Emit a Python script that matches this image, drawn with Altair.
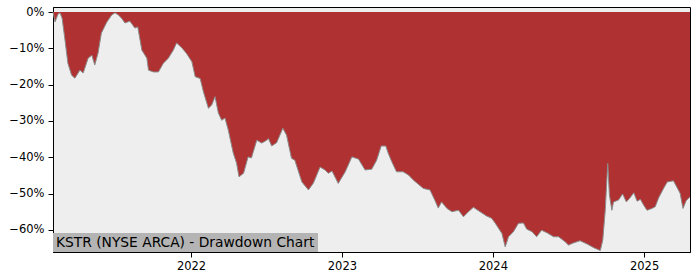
import altair as alt
import pandas as pd

dates = ["2021-02-01","2021-02-06","2021-02-13","2021-02-18","2021-02-23","2021-03-02","2021-03-09","2021-03-18","2021-03-26","2021-04-07",
"2021-04-15","2021-04-27","2021-05-06","2021-05-13","2021-05-21","2021-05-29","2021-06-11","2021-06-23","2021-07-01","2021-07-09",
"2021-07-17","2021-07-25","2021-08-06","2021-08-18","2021-08-25","2021-09-04","2021-09-16","2021-09-20","2021-10-02","2021-10-14",
"2021-10-26","2021-11-07","2021-11-19","2021-11-27","2021-12-10","2021-12-21","2022-01-03","2022-01-11","2022-01-23","2022-01-31",
"2022-02-12","2022-02-20","2022-02-28","2022-03-08","2022-03-16","2022-03-24","2022-04-01","2022-04-13","2022-04-21","2022-04-27",
"2022-05-08","2022-05-19","2022-05-27","2022-06-09","2022-06-21","2022-07-03","2022-07-07","2022-07-15","2022-07-27","2022-08-11",
"2022-08-20","2022-09-01","2022-09-09","2022-09-26","2022-10-12","2022-10-24","2022-11-09","2022-11-21","2022-11-29","2022-12-08",
"2022-12-23","2023-01-09","2023-01-25","2023-02-10","2023-02-26","2023-03-14","2023-03-26","2023-04-06","2023-04-17","2023-04-23",
"2023-05-01","2023-05-13","2023-05-29","2023-06-11","2023-06-23","2023-07-17","2023-08-02","2023-08-14","2023-08-22","2023-08-30",
"2023-09-12","2023-09-24","2023-10-10","2023-10-22","2023-11-03","2023-11-15","2023-12-01","2023-12-17","2023-12-29","2024-01-07",
"2024-01-23","2024-01-31","2024-02-08","2024-02-20","2024-03-03","2024-03-15","2024-03-23","2024-04-05","2024-04-16","2024-04-28",
"2024-05-11","2024-05-27","2024-06-08","2024-06-24","2024-07-02","2024-07-14","2024-07-30","2024-08-16","2024-09-01","2024-09-17",
"2024-09-23","2024-09-29","2024-10-05","2024-10-09","2024-10-15","2024-10-19","2024-10-31","2024-11-10","2024-11-19","2024-11-27",
"2024-12-07","2024-12-15","2024-12-23","2024-12-31","2025-01-08","2025-01-20","2025-01-28","2025-02-05","2025-02-17","2025-02-26",
"2025-03-13","2025-03-21","2025-03-29","2025-04-05","2025-04-13","2025-04-22"]

drawdown_pct = [0.0, -2.7, -0.6, -0.2, -1.7, -7.7, -14.1, -17.4, -18.2, -16.0,
-16.8, -12.7, -11.9, -14.6, -11.3, -5.8, -2.8, -0.8, -0.2, -0.8,
-1.7, -3.0, -2.5, -4.4, -4.1, -10.5, -12.7, -16.0, -16.5, -16.5,
-14.1, -12.7, -10.5, -8.5, -9.9, -11.4, -13.7, -17.8, -18.3, -22.0,
-26.5, -25.6, -23.3, -27.8, -29.8, -29.2, -32.5, -38.8, -41.6, -45.4,
-44.4, -39.9, -40.2, -35.3, -36.1, -35.3, -34.8, -36.9, -36.0, -32.0,
-33.9, -40.3, -40.8, -46.8, -49.0, -47.1, -42.7, -43.5, -44.4, -43.8,
-47.2, -44.0, -39.9, -40.5, -43.5, -43.3, -40.8, -36.9, -36.9, -38.9,
-41.1, -44.0, -44.0, -44.9, -46.3, -48.6, -49.0, -51.9, -54.0, -52.3,
-54.1, -55.0, -54.6, -56.4, -55.0, -53.8, -55.0, -56.2, -56.8, -58.2,
-61.0, -64.7, -61.9, -60.5, -58.2, -58.1, -59.8, -60.5, -61.9, -60.1,
-60.8, -61.9, -61.9, -63.3, -64.2, -63.6, -63.0, -63.9, -64.9, -65.7,
-62.8, -54.6, -41.7, -50.4, -54.6, -52.3, -51.8, -50.1, -52.3, -51.3,
-49.8, -52.1, -51.6, -53.2, -54.6, -54.1, -53.6, -51.2, -48.6, -46.8,
-46.5, -48.2, -49.9, -54.1, -51.9, -50.9]

y_ticks = [0.0, -0.1, -0.2, -0.3, -0.4, -0.5, -0.6]
label_text = "KSTR (NYSE ARCA) - Drawdown Chart"

df = pd.DataFrame({"date": pd.to_datetime(dates), "dd": [v / 100 for v in drawdown_pct]})

x_enc = alt.X("date:T", title=None,
              scale=alt.Scale(domain=["2021-02-01", "2025-04-22"], nice=False),
              axis=alt.Axis(format="%Y", tickCount={"interval": "year", "step": 1},
                            labelFlush=False, labelPadding=3, grid=False,
                            domainColor="black", tickColor="black", tickSize=5))
y_enc = alt.Y("dd:Q", title=None,
              scale=alt.Scale(domain=[-0.661, 0.014], nice=False, zero=False),
              axis=alt.Axis(values=y_ticks, format=".0%", labelPadding=4, grid=False,
                            domainColor="black", tickColor="black", tickSize=5))

base = alt.Chart(df)
area = base.mark_area(color="#b03131", opacity=1).encode(x=x_enc, y=y_enc, y2=alt.value(0))
line = base.mark_line(color="#8c8c8c", strokeWidth=1).encode(x="date:T", y="dd:Q")

box = alt.Chart(pd.DataFrame({"t": [label_text]})).mark_rect(color="#b4b4b4").encode(
    x=alt.value(0), x2=alt.value(265), y=alt.value(226), y2=alt.value(245))
txt = alt.Chart(pd.DataFrame({"t": [label_text]})).mark_text(
    align="left", baseline="alphabetic", font="DejaVu Sans", fontSize=13.8, color="black"
).encode(x=alt.value(3), y=alt.value(240), text="t:N")

chart = alt.layer(area, line, box, txt).properties(
    width=637, height=245,
    padding={"left": 53, "top": 7, "right": 10, "bottom": 28},
    autosize="none",
    background="white",
).configure_view(fill="#eeeeee", stroke="black", strokeWidth=1).configure_axis(
    labelFont="DejaVu Sans", labelFontSize=11.5, labelColor="black",
    tickColor="black", domainColor="black", grid=False, domainWidth=1
)

chart.save("out.html", embed_options={"renderer": "svg", "actions": False})
